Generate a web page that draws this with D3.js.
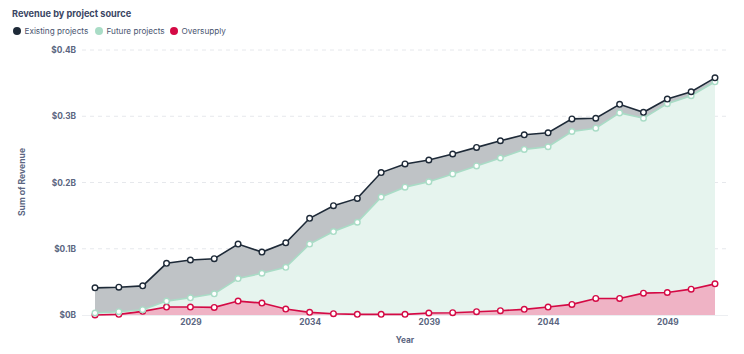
<!DOCTYPE html>
<html>
<head>
<meta charset="utf-8">
<script src="https://cdn.jsdelivr.net/npm/d3@7"></script>
<style>
  body { margin: 0; background: #fff; font-family: Inter, "Noto Sans", sans-serif; }
  svg { display: block; }
</style>
</head>
<body>
<div id="chart"></div>
<script>
var years = d3.range(2025, 2052);

// values in $B
var existing = [0.041, 0.042, 0.044, 0.078, 0.083, 0.085, 0.107, 0.095, 0.109, 0.146,
    0.165, 0.176, 0.215, 0.228, 0.234, 0.243, 0.253, 0.263, 0.272, 0.275,
    0.296, 0.297, 0.318, 0.306, 0.326, 0.337, 0.358];
var future = [0.003, 0.005, 0.008, 0.021, 0.026, 0.032, 0.055, 0.063, 0.072, 0.107,
    0.126, 0.140, 0.178, 0.193, 0.201, 0.213, 0.225, 0.237, 0.250, 0.254,
    0.277, 0.282, 0.305, 0.297, 0.319, 0.331, 0.352];
var oversupply = [0, 0.001, 0.0055, 0.012, 0.012, 0.0115, 0.021, 0.018, 0.009, 0.004,
    0.002, 0.001, 0.001, 0.001, 0.003, 0.0035, 0.005, 0.0065, 0.0085, 0.012,
    0.016, 0.025, 0.025, 0.033, 0.034, 0.039, 0.047];

var xTicks = [2029, 2034, 2039, 2044, 2049];
var yTicks = [0, 0.1, 0.2, 0.3, 0.4];

var series = [
    { name: "Existing projects", values: existing, line: "#1e2a38", area: "#bfc3c6" },
    { name: "Future projects", values: future, line: "#a9dcc6", area: "#e6f4ee" },
    { name: "Oversupply", values: oversupply, line: "#d40a45", area: "#efb3c5" }
];

var width = 744, height = 354;
var margin = { top: 50, right: 16, bottom: 39, left: 82 };
var labelColor = "#5b6681";

var svg = d3.select("#chart").append("svg")
    .attr("width", width)
    .attr("height", height);

var x = d3.scaleLinear()
    .domain([2025, 2051])
    .range([95, 715]);

var y = d3.scaleLinear()
    .domain([0, 0.4])
    .range([height - margin.bottom, margin.top]);

// title
svg.append("text")
    .attr("x", 12)
    .attr("y", 17)
    .style("font-size", "9.2px")
    .style("font-weight", 700)
    .style("fill", "#3b4664")
    .text("Revenue by project source");

// legend
var legendX = [17, 99, 174];
series.forEach(function(s, i) {
    var g = svg.append("g").attr("transform", "translate(" + legendX[i] + ",31)");
    g.append("circle").attr("r", 4).attr("fill", s.line);
    g.append("text")
        .attr("x", 7.5)
        .attr("y", 3)
        .style("font-size", "8.2px")
        .style("fill", "#4a5570")
        .text(s.name);
});

// grid
svg.append("g")
    .selectAll("line")
    .data(yTicks.filter(function(d) { return d > 0; }))
    .join("line")
    .attr("x1", margin.left)
    .attr("x2", 728)
    .attr("y1", function(d) { return y(d); })
    .attr("y2", function(d) { return y(d); })
    .attr("stroke", "#e6e8ec")
    .attr("stroke-dasharray", "4,4");

svg.append("line")
    .attr("x1", margin.left)
    .attr("x2", 728)
    .attr("y1", y(0) + 0.5)
    .attr("y2", y(0) + 0.5)
    .attr("stroke", "#eceef1");

// y axis
var yAxis = d3.axisLeft(y)
    .tickValues(yTicks)
    .tickSize(0)
    .tickPadding(0)
    .tickFormat(function(d) { return "$" + d + "B"; });

var gy = svg.append("g")
    .attr("transform", "translate(76,0)")
    .call(yAxis);
gy.select(".domain").remove();
gy.selectAll("text")
    .style("font-family", "Inter, 'Noto Sans', sans-serif")
    .style("font-size", "8.3px")
    .style("font-weight", 700)
    .style("fill", labelColor);

// x axis
var xAxis = d3.axisBottom(x)
    .tickValues(xTicks)
    .tickSize(0)
    .tickPadding(4)
    .tickFormat(d3.format("d"));

var gx = svg.append("g")
    .attr("transform", "translate(0," + y(0) + ")")
    .call(xAxis);
gx.select(".domain").remove();
gx.selectAll("text")
    .style("font-family", "Inter, 'Noto Sans', sans-serif")
    .style("font-size", "8.3px")
    .style("font-weight", 700)
    .style("fill", labelColor);

// axis titles
svg.append("text")
    .attr("x", 405)
    .attr("y", 343)
    .attr("text-anchor", "middle")
    .style("font-size", "8.3px")
    .style("font-weight", 700)
    .style("fill", labelColor)
    .text("Year");

svg.append("text")
    .attr("transform", "translate(25,182) rotate(-90)")
    .attr("text-anchor", "middle")
    .style("font-size", "8.6px")
    .style("font-weight", 700)
    .style("fill", labelColor)
    .text("Sum of Revenue");

// areas
var area = d3.area()
    .x(function(d, i) { return x(years[i]); })
    .y0(y(0))
    .y1(function(d) { return y(d); });

var line = d3.line()
    .x(function(d, i) { return x(years[i]); })
    .y(function(d) { return y(d); });

series.forEach(function(s) {
    svg.append("path")
        .datum(s.values)
        .attr("d", area)
        .attr("fill", s.area);
});

// lines and markers: oversupply underneath, existing on top
series.slice().reverse().forEach(function(s) {
    svg.append("path")
        .datum(s.values)
        .attr("d", line)
        .attr("fill", "none")
        .attr("stroke", s.line)
        .attr("stroke-width", 1.6);

    svg.append("g")
        .selectAll("circle")
        .data(s.values)
        .join("circle")
        .attr("cx", function(d, i) { return x(years[i]); })
        .attr("cy", function(d) { return y(d); })
        .attr("r", 2.8)
        .attr("fill", "#fff")
        .attr("stroke", s.line)
        .attr("stroke-width", 1.4);
});
</script>
</body>
</html>
